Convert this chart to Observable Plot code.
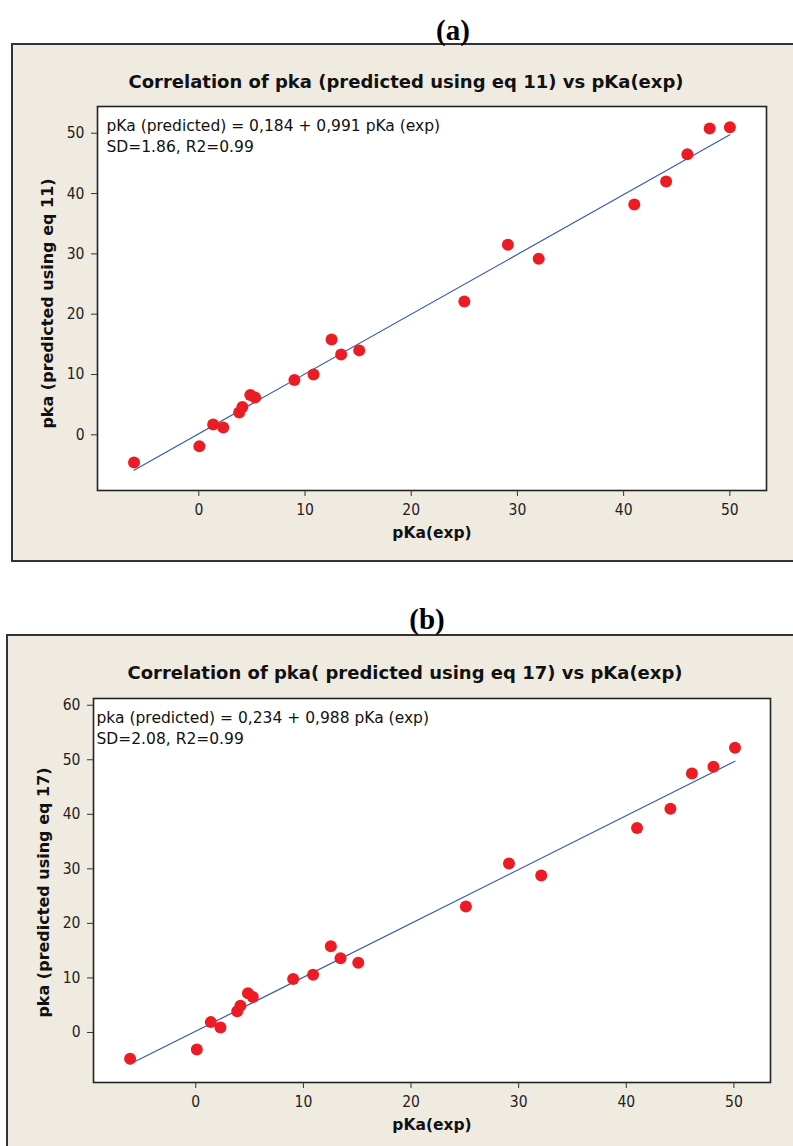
<!DOCTYPE html>
<html>
<head>
<meta charset="utf-8">
<script src="https://cdn.jsdelivr.net/npm/d3@7"></script>
<script src="https://cdn.jsdelivr.net/npm/@observablehq/plot@0.6"></script>
<style>
  html, body { margin: 0; padding: 0; background: #ffffff; }
  body { position: relative; width: 793px; height: 1146px; overflow: hidden; font-family: "DejaVu Sans", sans-serif; }
  .panel { position: absolute; background: #f0ebe1; border: 2px solid #333; box-sizing: border-box; }
  .lab { position: absolute; font-family: "Liberation Serif", serif; font-weight: bold; font-size: 29px; color: #000; transform: translate(-50%, -50%); white-space: nowrap; }
  .title { position: absolute; font-family: "DejaVu Sans", sans-serif; font-weight: bold; font-size: 18px; color: #111; transform: translate(-50%, -50%); white-space: nowrap; }
  .plot { position: absolute; }
</style>
</head>
<body>
<div class="panel" style="left:11px; top:43px; width:800px; height:519px;"></div>
<div class="panel" style="left:6px; top:634px; width:805px; height:530px;"></div>
<div class="lab" style="left:453px; top:30px;">(a)</div>
<div class="lab" style="left:427px; top:619px;">(b)</div>
<div class="title" id="titleA" style="left:406px; top:81px;"></div>
<div class="title" id="titleB" style="left:405px; top:672px;"></div>
<div class="plot" id="plotA" style="left:11px; top:43px;"></div>
<div class="plot" id="plotB" style="left:6px; top:634px;"></div>
<script>
// ---- data: panel (a) eq 11 ----
const pKaExpA = [-6.1, 0.05, 1.35, 2.3, 3.8, 4.1, 4.85, 5.3, 9.0, 10.8, 12.5, 13.4, 15.1, 25.0, 29.1, 32.0, 41.0, 44.0, 46.0, 48.1, 50.0];
const pKaPredA = [-4.6, -1.9, 1.7, 1.2, 3.7, 4.6, 6.6, 6.2, 9.1, 10.0, 15.8, 13.3, 14.0, 22.1, 31.5, 29.2, 38.2, 42.0, 46.5, 50.8, 51.0];
const fitA = [0.184, 0.991]; // intercept, slope
const titleA = "Correlation of pka (predicted using eq 11) vs pKa(exp)";
const yLabelA = "pka (predicted using eq 11)";
const eqLinesA = ["pKa (predicted) = 0,184 + 0,991 pKa (exp)", "SD=1.86, R2=0.99"];
const yTicksA = [0, 10, 20, 30, 40, 50];

// ---- data: panel (b) eq 17 ----
const pKaExpB = [-6.1, 0.1, 1.4, 2.3, 3.85, 4.15, 4.85, 5.3, 9.05, 10.9, 12.55, 13.45, 15.1, 25.1, 29.1, 32.1, 41.0, 44.1, 46.1, 48.1, 50.1];
const pKaPredB = [-4.8, -3.1, 1.9, 0.9, 3.9, 4.9, 7.2, 6.5, 9.8, 10.6, 15.8, 13.6, 12.8, 23.1, 31.0, 28.8, 37.5, 41.0, 47.5, 48.7, 52.2];
const fitB = [0.234, 0.988];
const titleB = "Correlation of pka( predicted using eq 17) vs pKa(exp)";
const yLabelB = "pka (predicted using eq 17)";
const eqLinesB = ["pka (predicted) = 0,234 + 0,988 pKa (exp)", "SD=2.08, R2=0.99"];
const yTicksB = [0, 10, 20, 30, 40, 50, 60];

const xTicks = [0, 10, 20, 30, 40, 50];
const xLabel = "pKa(exp)";

const FONT = '"DejaVu Sans", sans-serif';
const TICKFONT = '"DejaVu Sans Condensed", "DejaVu Sans", sans-serif';

function build(o) {
  const pts = o.xs.map((x, i) => ({x, y: o.ys[i]}));
  const ext = d3.extent(o.xs);
  const fitLine = ext.map(x => ({x, y: o.fit[0] + o.fit[1] * x}));
  return Plot.plot({
    width: o.width, height: o.height,
    marginLeft: o.ml, marginRight: o.mr, marginTop: o.mt, marginBottom: o.mb,
    style: { background: "transparent", fontFamily: FONT, fontSize: "15px", color: "#222", overflow: "visible" },
    x: { domain: o.xd },
    y: { domain: o.yd },
    marks: [
      Plot.frame({ fill: "white", stroke: "#222", strokeWidth: 1.6 }),
      Plot.axisX({ ticks: xTicks, tickSize: 6, tickPadding: 7, label: null, stroke: "#333", fill: "#222", fontSize: 15.5, fontFamily: TICKFONT }),
      Plot.axisY({ ticks: o.yTicks, tickSize: 6, tickPadding: 7, label: null, stroke: "#333", fill: "#222", fontSize: 15.5, fontFamily: TICKFONT }),
      Plot.line(fitLine, { x: "x", y: "y", stroke: "#3a5db3", strokeWidth: 1.2 }),
      Plot.dot(pts, { x: "x", y: "y", r: 6, fill: "#ec1c24", stroke: "none" }),
      Plot.text([o.eq[0]], { frameAnchor: "top-left", textAnchor: "start", lineAnchor: "middle", dx: o.eqDx, dy: 20, fill: "#111", fontSize: 15.5 }),
      Plot.text([o.eq[1]], { frameAnchor: "top-left", textAnchor: "start", lineAnchor: "middle", dx: o.eqDx, dy: 41, fill: "#111", fontSize: 15.5 }),
      Plot.text([o.xLabel], { frameAnchor: "bottom", textAnchor: "middle", lineAnchor: "middle", dy: 43, fontWeight: "bold", fontSize: 15.5, fill: "#111" }),
      Plot.text([o.yLabel], { frameAnchor: "left", textAnchor: "middle", rotate: -90, lineAnchor: "middle", dx: -50, dy: o.yLabDy, fontWeight: "bold", fontSize: 16, fill: "#111" })
    ]
  });
}

document.getElementById("titleA").textContent = titleA;
document.getElementById("titleB").textContent = titleB;

document.getElementById("plotA").append(build({
  xs: pKaExpA, ys: pKaPredA, fit: fitA, eq: eqLinesA, yTicks: yTicksA,
  xLabel, yLabel: yLabelA,
  width: 782, height: 518, ml: 86, mr: 27, mt: 63, mb: 71,
  xd: [-9.54, 53.45], yd: [-9.23, 54.43], eqDx: 9, yLabDy: 5
}));

document.getElementById("plotB").append(build({
  xs: pKaExpB, ys: pKaPredB, fit: fitB, eq: eqLinesB, yTicks: yTicksB,
  xLabel, yLabel: yLabelB,
  width: 787, height: 512, ml: 87, mr: 23, mt: 64, mb: 64,
  xd: [-9.5, 53.4], yd: [-9.17, 61.23], eqDx: 3, yLabDy: 2
}));
</script>
</body>
</html>
